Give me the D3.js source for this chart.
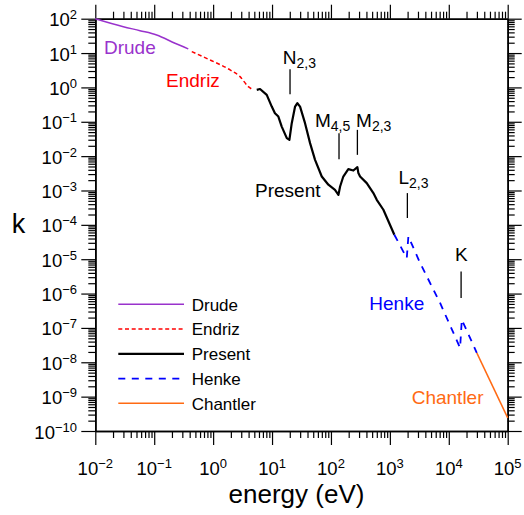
<!DOCTYPE html>
<html>
<head>
<meta charset="utf-8">
<script src="https://cdn.jsdelivr.net/npm/d3@7"></script>
<style>
  body { margin: 0; background: #fff; }
  svg { display: block; font-family: "Liberation Sans", Arial, sans-serif; }
</style>
</head>
<body>
<svg id="chart"></svg>
<script>
// values: energy in eV, extinction coefficient k
const drudeE = [0.01, 0.0299, 0.0574, 0.110, 0.225, 0.379];
const drudeK = [100, 58.5, 44.8, 33.6, 19.3, 13.2];

const endrizE = [0.434, 0.885, 1.94, 2.86, 3.96, 4.82];
const endrizK = [11.0, 6.30, 3.23, 2.06, 1.05, 0.846];

const presentE = [5.50, 6.25, 8.13, 9.89, 11.2, 12.8, 14.6, 17.8, 19.7, 21.6, 24.6, 26.9, 29.9,
  36.3, 44.2, 53.7, 69.8, 90.4, 117, 134, 143, 162, 197, 240, 281, 292, 312, 405, 525, 599, 776, 1190];
const presentK = [0.85, 0.90, 0.605, 0.277, 0.178, 0.142, 0.0725, 0.0333, 0.0298, 0.091, 0.277, 0.347, 0.277,
  0.091, 0.0239, 0.0078, 0.00255, 0.00147, 0.00105, 0.00075, 0.00131, 0.00255, 0.00419, 0.00381, 0.00479,
  0.00321, 0.00255, 0.00164, 0.00084, 0.000537, 0.000275, 5.15e-5];

const henkeE = [1190, 1936, 2061, 3258, 7117, 15560, 16630, 29880];
const henkeK = [5.15e-5, 1.08e-5, 4.6e-5, 7.76e-6, 5.33e-7, 2.62e-8, 1.74e-7, 1.88e-8];

const chantlerE = [29880, 1e5];
const chantlerK = [1.88e-8, 2.4e-10];

const seriesNames = ['Drude', 'Endriz', 'Present', 'Henke', 'Chantler'];

// absorption edges: energy of the marker and the k range it spans
const edgeMain = ['N', 'M', 'M', 'L', 'K'];
const edgeSub = ['2,3', '4,5', '2,3', '2,3', ''];
const edgeE = [20.2, 137, 281, 1982, 16180];
const edgeKTop = [3.38, 0.0467, 0.0582, 8.4e-4, 4.42e-6];
const edgeKBottom = [0.634, 0.00818, 0.0109, 1.58e-4, 7.45e-7];

const xTickExp = [-2, -1, 0, 1, 2, 3, 4, 5];
const yTickExp = [-10, -9, -8, -7, -6, -5, -4, -3, -2, -1, 0, 1, 2];

// layout
const width = 524, height = 515;
const margin = { left: 95.3, top: 18.7 };
const plotW = 412.4, plotH = 412.3;

const styles = [
  { color: '#9932cc', width: 1.5, dash: null },
  { color: '#ff0000', width: 1.5, dash: '4,2.7' },
  { color: '#000000', width: 2.2, dash: null },
  { color: '#0000ff', width: 1.8, dash: '7,6.5' },
  { color: '#ff6a13', width: 1.5, dash: null }
];
const curveLabelPos = [[104, 54], [166, 87.3], [255, 197], [369.3, 310], [411.7, 404]];
const edgeLabelDx = [-7.3, -24, -1.3, -9, -6];
const edgeLabelDy = [-5.3, -6.6, -3.3, -9, -10];

const svg = d3.select('#chart')
  .attr('width', width)
  .attr('height', height);

const x = d3.scaleLog().domain([1e-2, 1e5]).range([margin.left, margin.left + plotW]);
const y = d3.scaleLog().domain([1e-10, 1e2]).range([margin.top + plotH, margin.top]);

const minorOf = exps => {
  const out = [];
  exps.slice(0, -1).forEach(e => {
    for (let m = 2; m <= 9; m++) out.push(m * Math.pow(10, e));
  });
  return out;
};
const xMajor = xTickExp.map(e => Math.pow(10, e));
const yMajor = yTickExp.map(e => Math.pow(10, e));
const xMinor = minorOf(xTickExp);
const yMinor = minorOf(yTickExp);

function addAxis(gen, transform, values, size) {
  const g = svg.append('g')
    .attr('transform', transform)
    .call(gen.tickValues(values).tickSize(size).tickSizeOuter(0).tickFormat(''));
  g.select('.domain').attr('stroke-width', 1.6);
  g.selectAll('.tick line').attr('stroke-width', 1.2);
}

const bottomY = margin.top + plotH;
const rightX = margin.left + plotW;
[[xMajor, 14], [xMinor, 7]].forEach(([v, s]) => {
  addAxis(d3.axisBottom(x), `translate(0,${bottomY})`, v, s);
  addAxis(d3.axisTop(x), `translate(0,${margin.top})`, v, s);
});
[[yMajor, 14], [yMinor, 7]].forEach(([v, s]) => {
  addAxis(d3.axisLeft(y), `translate(${margin.left},0)`, v, s);
  addAxis(d3.axisRight(y), `translate(${rightX},0)`, v, s);
});

const expText = e => (e < 0 ? '\u2212' + (-e) : String(e));

yTickExp.forEach(e => {
  const t = svg.append('text')
    .attr('x', 77)
    .attr('y', y(Math.pow(10, e)) + 7.5)
    .attr('text-anchor', 'end')
    .attr('font-size', 18.5);
  t.append('tspan').text('10');
  t.append('tspan').attr('dy', -7).attr('font-size', 13).text(expText(e));
});

xTickExp.forEach(e => {
  const t = svg.append('text')
    .attr('x', x(Math.pow(10, e)))
    .attr('y', 475)
    .attr('text-anchor', 'middle')
    .attr('font-size', 18.5);
  t.append('tspan').text('10');
  t.append('tspan').attr('dy', -7).attr('font-size', 13).text(expText(e));
});

svg.append('text')
  .attr('x', 18.5).attr('y', 233)
  .attr('text-anchor', 'middle')
  .attr('font-size', 27)
  .text('k');

svg.append('text')
  .attr('x', 296.5).attr('y', 503)
  .attr('text-anchor', 'middle')
  .attr('font-size', 26)
  .text('energy (eV)');

// curves
const line = d3.line().x(d => x(d[0])).y(d => y(d[1]));
const smooth = d3.line().x(d => x(d[0])).y(d => y(d[1])).curve(d3.curveMonotoneX);
const series = [
  [drudeE, drudeK, smooth],
  [endrizE, endrizK, smooth],
  [presentE, presentK, line],
  [henkeE, henkeK, line],
  [chantlerE, chantlerK, line]
];

series.forEach(([es, ks, gen], i) => {
  const st = styles[i];
  svg.append('path')
    .datum(es.map((e, j) => [e, ks[j]]))
    .attr('fill', 'none')
    .attr('stroke', st.color)
    .attr('stroke-width', st.width)
    .attr('stroke-dasharray', st.dash)
    .attr('stroke-linejoin', 'round')
    .attr('d', gen);

  svg.append('text')
    .attr('x', curveLabelPos[i][0])
    .attr('y', curveLabelPos[i][1])
    .attr('font-size', 19)
    .attr('fill', st.color)
    .text(seriesNames[i]);
});

// edge markers
edgeE.forEach((e, i) => {
  const px = x(e);
  const top = y(edgeKTop[i]);
  svg.append('line')
    .attr('x1', px).attr('x2', px)
    .attr('y1', top).attr('y2', y(edgeKBottom[i]))
    .attr('stroke', '#000')
    .attr('stroke-width', 1.3);
  const t = svg.append('text')
    .attr('x', px + edgeLabelDx[i])
    .attr('y', top + edgeLabelDy[i])
    .attr('font-size', 19);
  t.append('tspan').text(edgeMain[i]);
  if (edgeSub[i]) t.append('tspan').attr('dy', 4).attr('font-size', 14).text(edgeSub[i]);
});

// legend
const legend = svg.append('g');
seriesNames.forEach((name, i) => {
  const ly = 304.3 + i * 24.75;
  const st = styles[i];
  legend.append('line')
    .attr('x1', 118.3).attr('x2', 184)
    .attr('y1', ly).attr('y2', ly)
    .attr('stroke', st.color)
    .attr('stroke-width', st.width)
    .attr('stroke-dasharray', st.dash);
  legend.append('text')
    .attr('x', 191.7).attr('y', ly + 6.3)
    .attr('font-size', 17)
    .text(name);
});
</script>
</body>
</html>
